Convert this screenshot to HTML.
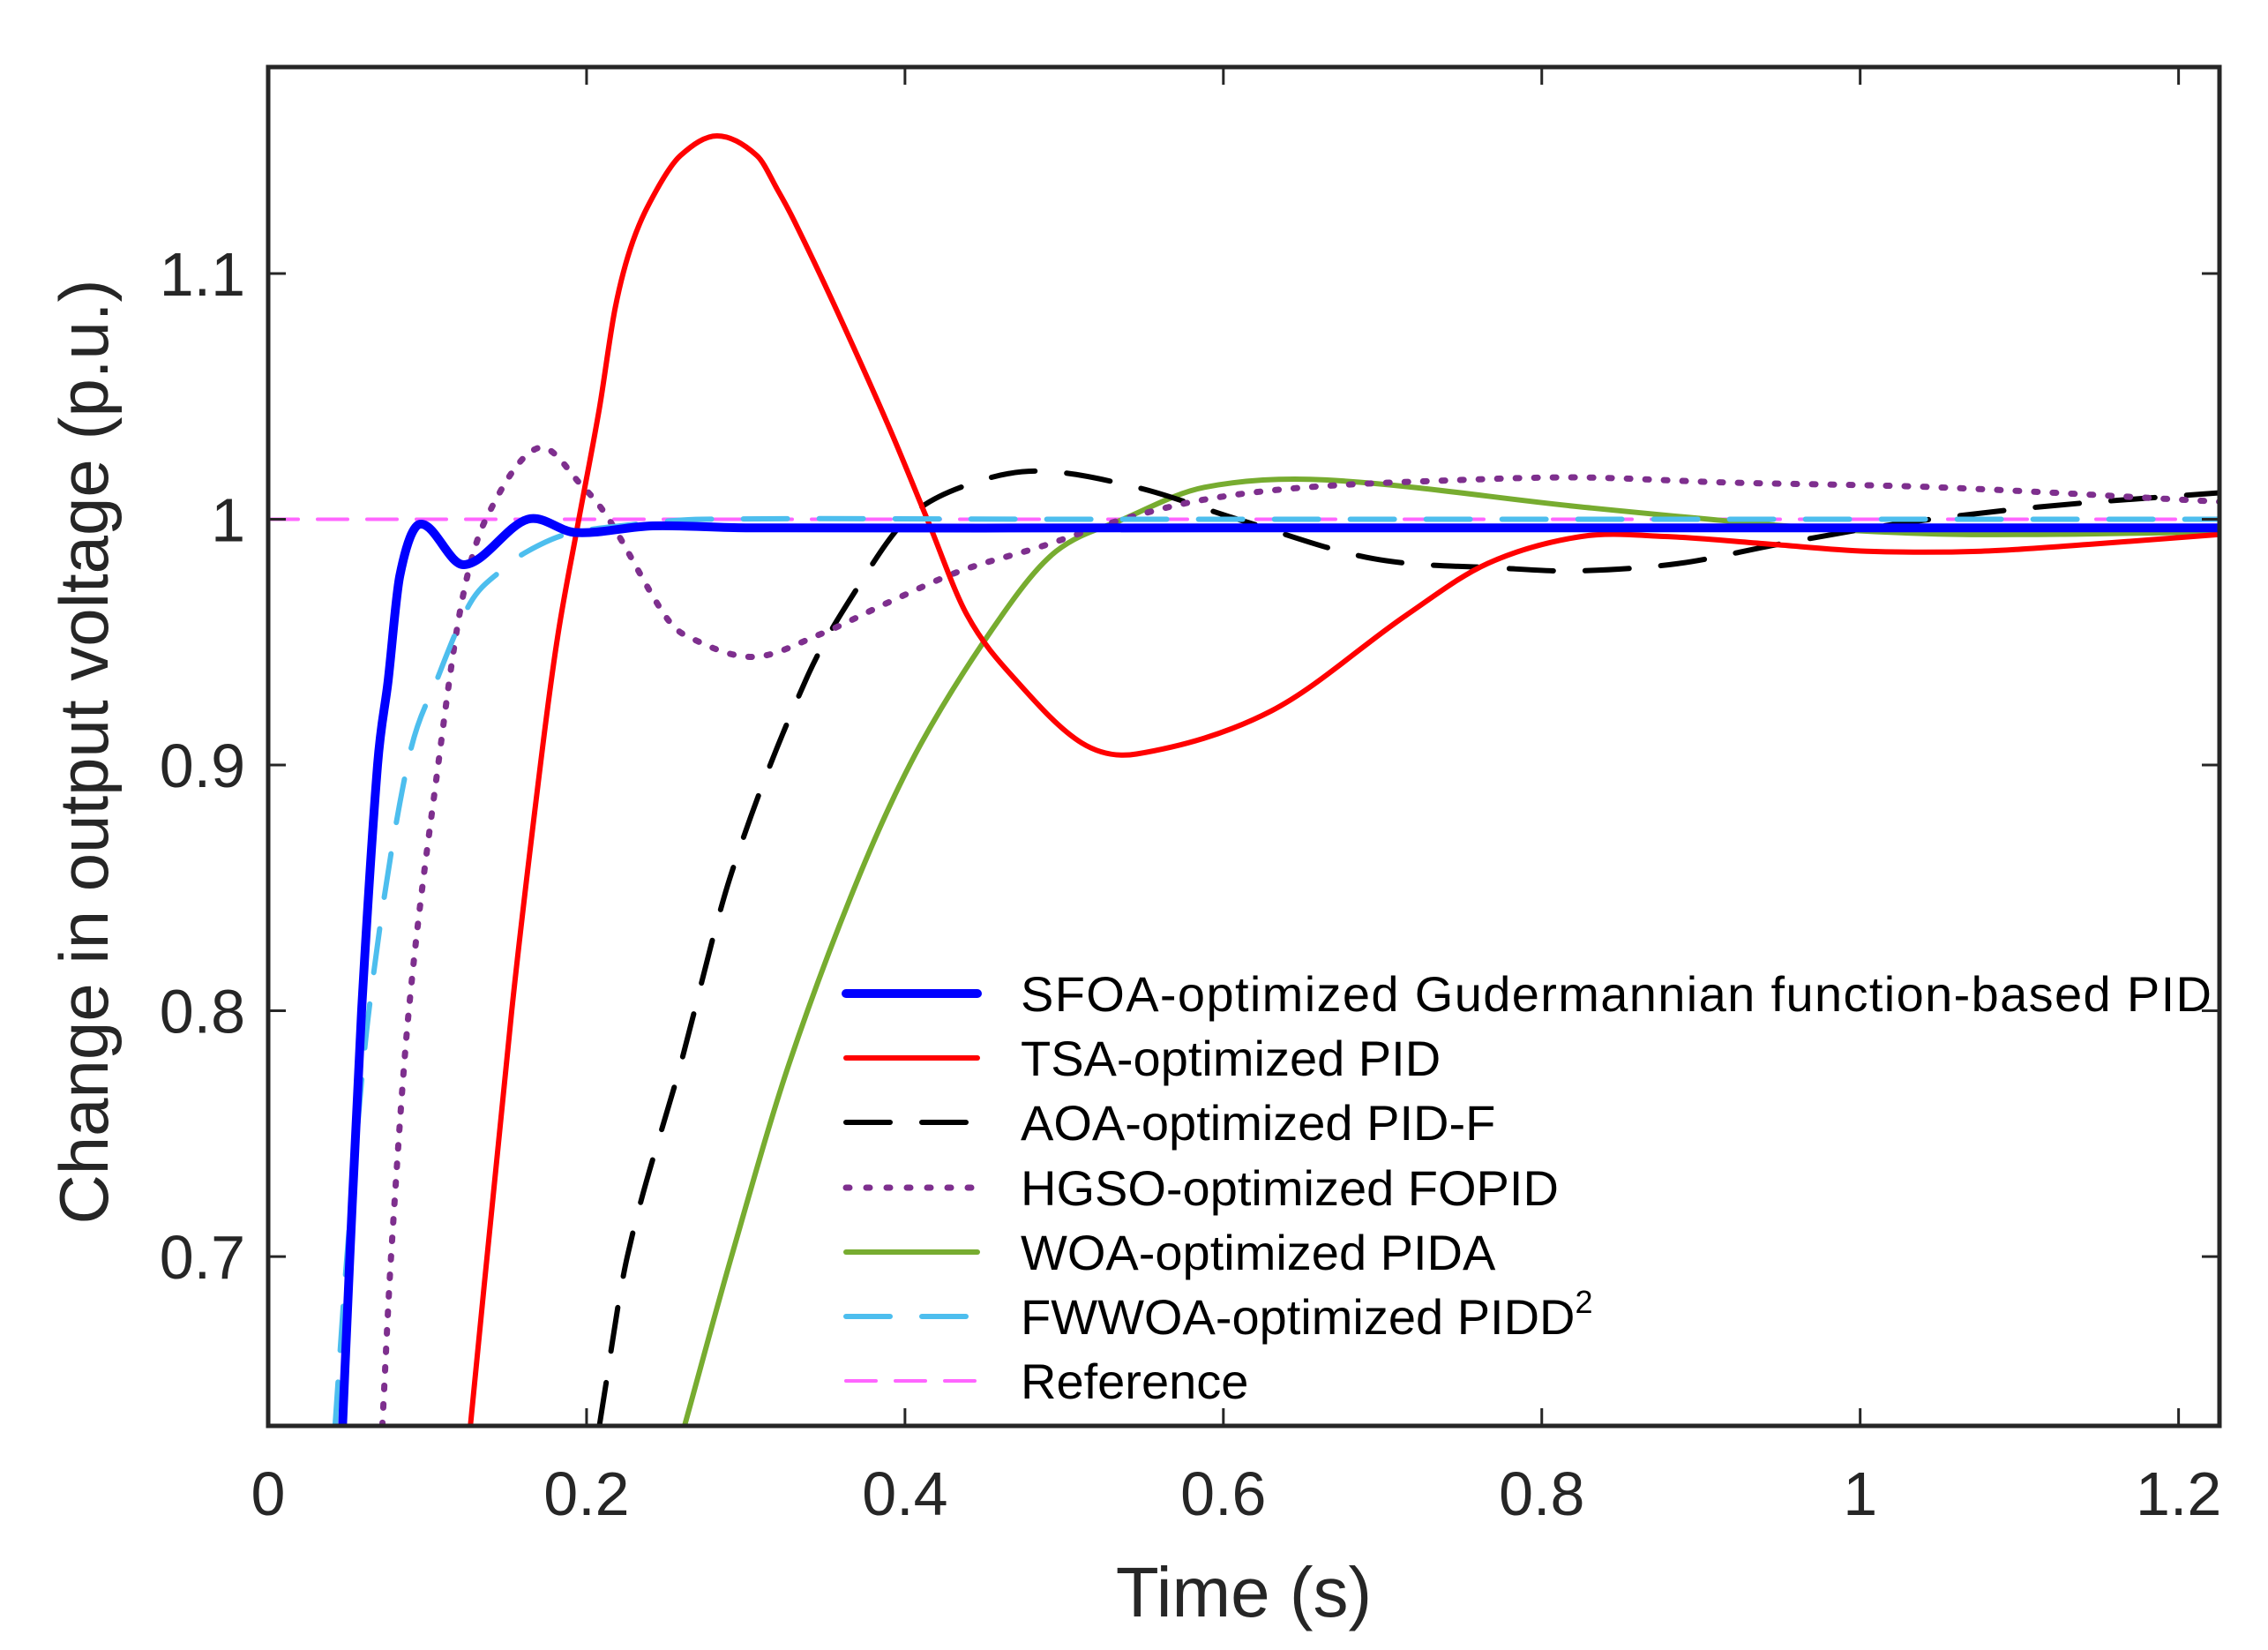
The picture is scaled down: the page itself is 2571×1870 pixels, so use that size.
<!DOCTYPE html>
<html><head><meta charset="utf-8"><style>
html,body{margin:0;padding:0;background:#fff;}
svg{display:block;font-family:"Liberation Sans",Arial,sans-serif;}
</style></head><body>
<svg id="chart" width="2571" height="1870" viewBox="0 0 2571 1870" xmlns="http://www.w3.org/2000/svg">
<defs><clipPath id="plotclip"><rect x="304" y="76" width="2212" height="1540"/></clipPath></defs>
<g id="series" clip-path="url(#plotclip)"></g>
<g id="axes"></g>
<g id="legend"></g>
</svg>
<script>
const xTicks = [0, 0.2, 0.4, 0.6, 0.8, 1, 1.2];
const xTickLabels = ["0", "0.2", "0.4", "0.6", "0.8", "1", "1.2"];
const yTicks = [0.7, 0.8, 0.9, 1, 1.1];
const yTickLabels = ["0.7", "0.8", "0.9", "1", "1.1"];
const seriesNames = ["SFOA-optimized Gudermannian function-based PID","TSA-optimized PID","AOA-optimized PID-F","HGSO-optimized FOPID","WOA-optimized PIDA","FWWOA-optimized PIDD","Reference"];
const sfoaT = [0.0467,0.0513,0.0587,0.0687,0.0753,0.0827,0.0953,0.1229,0.163,0.193,0.2416,0.3,0.6,1.23];
const sfoaY = [0.631,0.7,0.8,0.9,0.934,0.977,0.998,0.9815,1.0,0.9946,0.9973,0.9965,0.9965,0.9965];
const tsaT = [0.127,0.153,0.171,0.182,0.194,0.208,0.218,0.229,0.244,0.259,0.282,0.307,0.32,0.33,0.355,0.389,0.414,0.439,0.469,0.511,0.5455,0.63,0.715,0.766,0.825,0.877,0.941,1.004,1.076,1.148,1.23];
const tsaY = [0.631,0.8,0.9,0.953,0.996,1.045,1.086,1.113,1.134,1.148,1.156,1.148,1.134,1.122,1.088,1.039,1.0,0.961,0.935,0.909,0.9045,0.922,0.961,0.982,0.993,0.993,0.99,0.987,0.987,0.99,0.994];
const aoaT = [0.208,0.2256,0.259,0.291,0.338,0.372,0.401,0.435,0.482,0.5455,0.609,0.694,0.778,0.823,0.886,0.95,1.022,1.112,1.23];
const aoaY = [0.631,0.70,0.778,0.856,0.935,0.974,1.0,1.013,1.0196,1.013,1.0,0.984,0.980,0.979,0.982,0.99,0.998,1.005,1.011];
const hgsoT = [0.0717,0.0772,0.0883,0.1068,0.1215,0.1367,0.1695,0.198,0.214,0.248,0.2615,0.304,0.346,0.389,0.435,0.486,0.537,0.588,0.652,0.75,0.825,0.914,1.049,1.23];
const hgsoY = [0.631,0.7,0.8,0.9,0.966,1.0,1.029,1.013,1.0,0.962,0.953,0.944,0.953,0.966,0.979,0.989,1.0,1.008,1.013,1.016,1.017,1.015,1.013,1.007];
const woaT = [0.2615,0.291,0.327,0.372,0.41,0.461,0.495,0.537,0.588,0.664,0.825,0.959,1.049,1.139,1.23];
const woaY = [0.631,0.70,0.778,0.856,0.9086,0.961,0.987,1.0,1.013,1.016,1.005,0.997,0.994,0.994,0.995];
const fwT = [0.042,0.0495,0.0633,0.0874,0.1068,0.127,0.146,0.163,0.188,0.231,0.273,0.5,1.23];
const fwY = [0.631,0.7,0.8,0.9,0.936,0.966,0.979,0.987,0.994,0.998,1.0,1.0,1.0];
const refT = [0, 1.23];
const refY = [1, 1];

const X0=304, X1=2516, Y0=1616, Y1=76;
const xMin=0, xMax=1.2257, yMin=0.6311, yMax=1.1840;
function sx(v){return X0+(v-xMin)/(xMax-xMin)*(X1-X0);}
function sy(v){return Y0-(v-yMin)/(yMax-yMin)*(Y0-Y1);}
const NS="http://www.w3.org/2000/svg";
function mk(tag, attrs, parent){const e=document.createElementNS(NS,tag);for(const k in attrs)e.setAttribute(k,attrs[k]);parent.appendChild(e);return e;}
function pathD(ts, ys){
  const p=ts.map((t,i)=>[sx(t),sy(ys[i])]);
  const n=p.length;
  if(n<3) return "M"+p.map(q=>q[0].toFixed(1)+","+q[1].toFixed(1)).join(" L");
  const m=[];
  for(let i=0;i<n;i++){
    const a=p[Math.max(i-1,0)], c=p[Math.min(i+1,n-1)];
    m.push((c[1]-a[1])/(c[0]-a[0]));
  }
  let d="M"+p[0][0].toFixed(1)+","+p[0][1].toFixed(1);
  for(let i=0;i<n-1;i++){
    const b=p[i], c=p[i+1], h=c[0]-b[0];
    const c1=[b[0]+h/3, b[1]+m[i]*h/3];
    const c2=[c[0]-h/3, c[1]-m[i+1]*h/3];
    d+=" C"+c1[0].toFixed(1)+","+c1[1].toFixed(1)+" "+c2[0].toFixed(1)+","+c2[1].toFixed(1)+" "+c[0].toFixed(1)+","+c[1].toFixed(1);
  }
  return d;
}
const styles=[
 {t:sfoaT,y:sfoaY,c:"#0000ff",w:10,d:"",name:"sfoa-line"},
 {t:tsaT,y:tsaY,c:"#ff0000",w:6,d:"",name:"tsa-line"},
 {t:aoaT,y:aoaY,c:"#000000",w:6,d:"50 36",name:"aoa-line"},
 {t:hgsoT,y:hgsoY,c:"#7e2f8e",w:7,d:"4 17",name:"hgso-line"},
 {t:woaT,y:woaY,c:"#77ac30",w:6,d:"",name:"woa-line"},
 {t:fwT,y:fwY,c:"#4dbeee",w:6,d:"50 36",name:"fwwoa-line"},
 {t:refT,y:refY,c:"#ff66ff",w:4,d:"34 22",name:"reference-line"}
];
const gS=document.getElementById("series");
const order=[6,4,2,3,1,5,0];
order.forEach(i=>{
  const s=styles[i];
  const el=mk("path",{d:pathD(s.t,s.y),fill:"none",stroke:s.c,"stroke-width":s.w,"stroke-linecap":"round","stroke-linejoin":"round"},gS);
  if(s.d) el.setAttribute("stroke-dasharray",s.d);
  
  
});
const gA=document.getElementById("axes");
const frame=mk("rect",{x:X0,y:Y1,width:X1-X0,height:Y0-Y1,fill:"none",stroke:"#262626","stroke-width":5},gA);


xTicks.forEach((v,i)=>{
  const x=sx(v);
  mk("line",{x1:x,y1:Y0,x2:x,y2:Y0-20,stroke:"#262626","stroke-width":3},gA);
  mk("line",{x1:x,y1:Y1,x2:x,y2:Y1+20,stroke:"#262626","stroke-width":3},gA);
  const t=mk("text",{x:x,y:1717,"font-size":70,"text-anchor":"middle",fill:"#262626"},gA);
  t.textContent=xTickLabels[i];
  
  
});
yTicks.forEach((v,i)=>{
  const y=sy(v);
  mk("line",{x1:X0,y1:y,x2:X0+20,y2:y,stroke:"#262626","stroke-width":3},gA);
  mk("line",{x1:X1,y1:y,x2:X1-20,y2:y,stroke:"#262626","stroke-width":3},gA);
  const t=mk("text",{x:278,y:y+25,"font-size":70,"text-anchor":"end",fill:"#262626"},gA);
  t.textContent=yTickLabels[i];
  
  
});
const xl=mk("text",{x:1410,y:1832,"font-size":80,"text-anchor":"middle",fill:"#262626"},gA);
xl.textContent="Time (s)";


const yl=mk("text",{x:0,y:0,"font-size":78,"text-anchor":"middle",fill:"#262626",transform:"translate(122,852) rotate(-90)"},gA);
yl.textContent="Change in output voltage (p.u.)";


const gL=document.getElementById("legend");
const rowY=[1126,1199,1272,1346,1419,1492,1565];
const ldash=["","","50 36","4 19","","50 36","34 22"];
styles.forEach((s,i)=>{
  const y=rowY[i];
  const ln=mk("line",{x1:959,y1:y,x2:1108,y2:y,stroke:s.c,"stroke-width":s.w,"stroke-linecap":"round"},gL);
  if(ldash[i]) ln.setAttribute("stroke-dasharray",ldash[i]);
  
  
  const t=mk("text",{x:1157,y:y+20,"font-size":56,fill:"#000"},gL);
  t.textContent=seriesNames[i];
  if(i===0) t.setAttribute("textLength","1350");
  if(i===5){const sp=mk("tspan",{dy:-24,"font-size":36},t);sp.textContent="2";}
  
  
});
</script>
</body></html>
